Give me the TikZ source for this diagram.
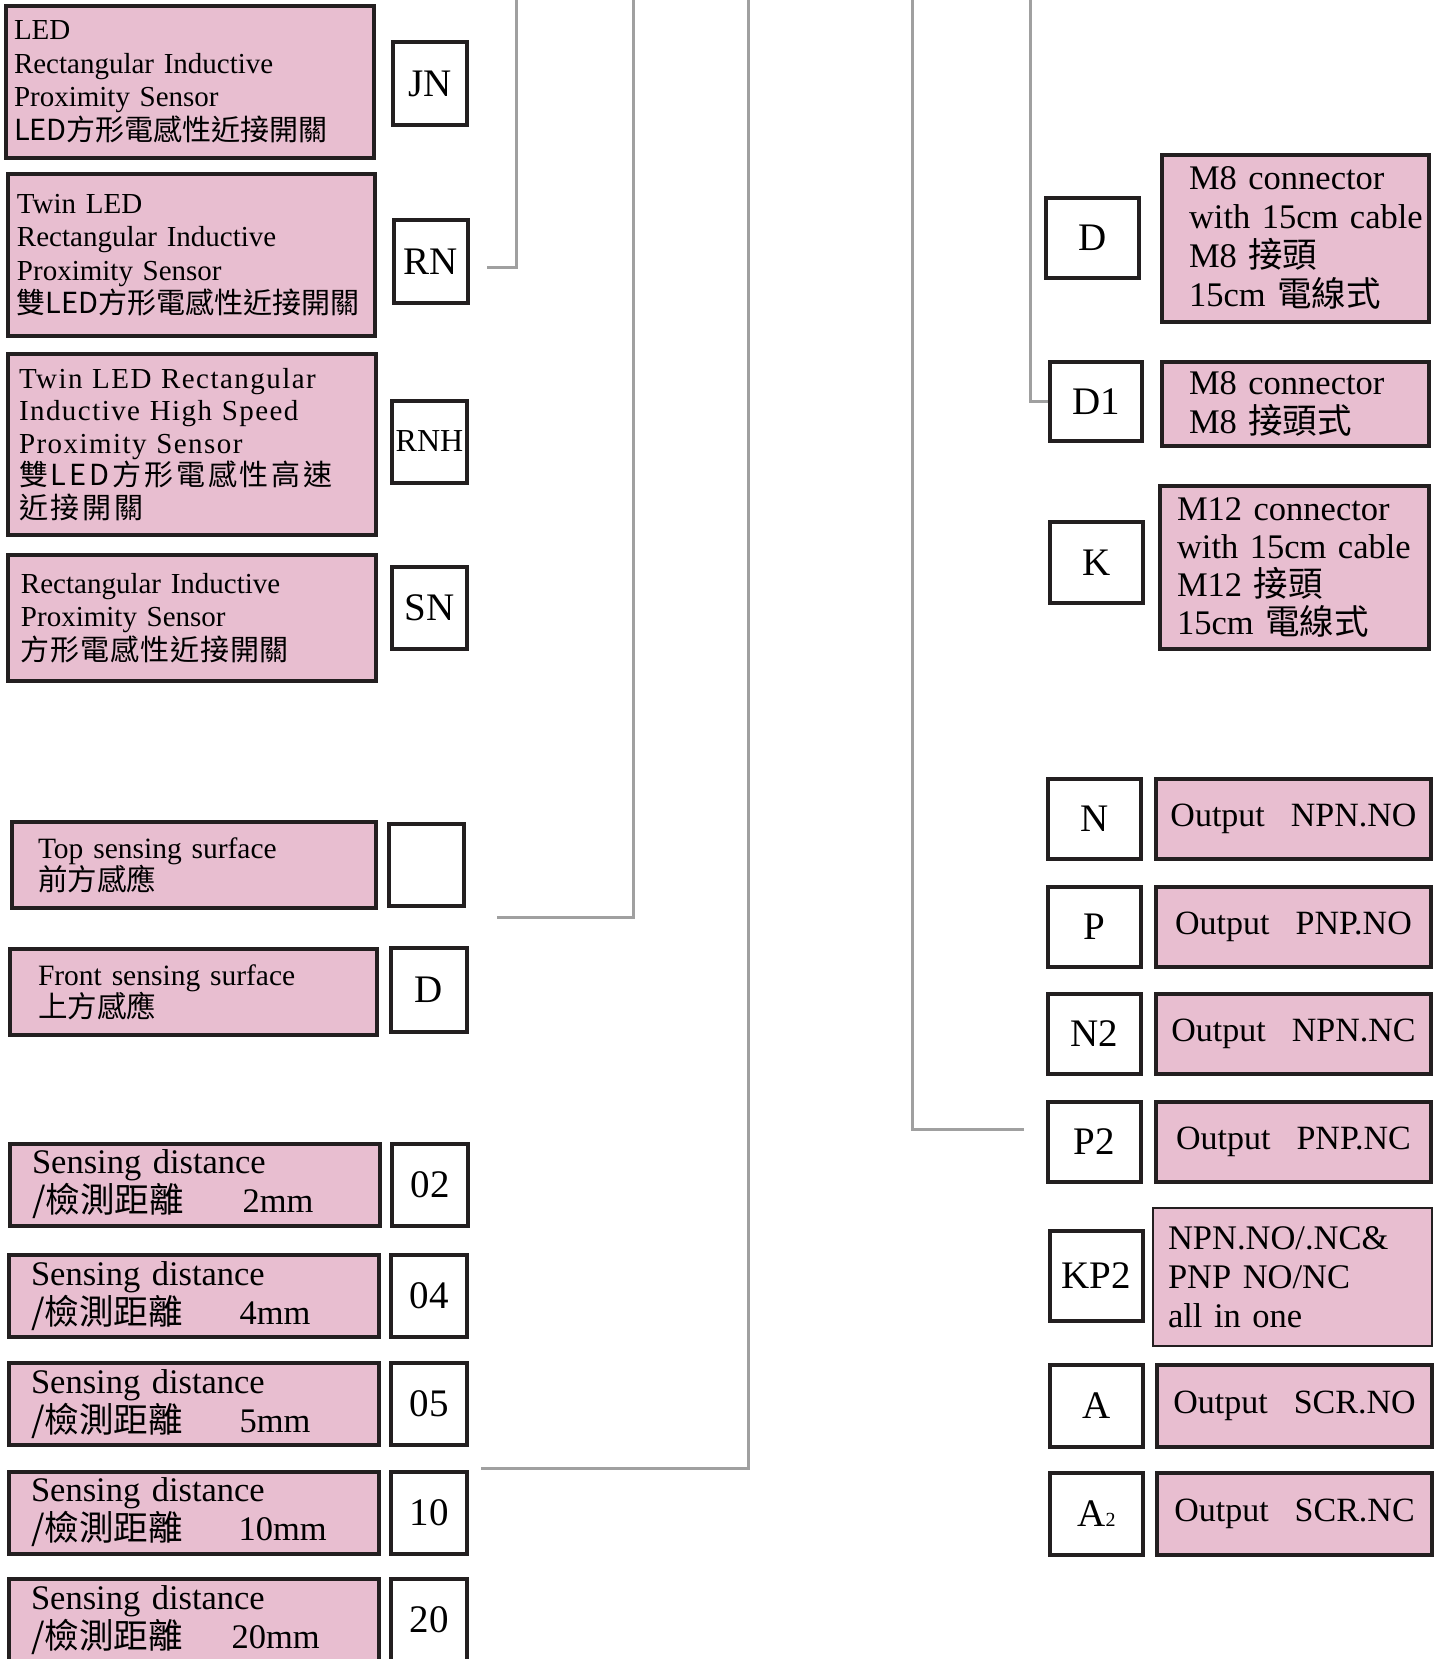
\documentclass[tikz,border=0pt]{standalone}
\usepackage{fontspec}
\setmainfont{Liberation Serif}
\newfontfamily\cjk{Noto Sans CJK TC}
\newfontfamily\cjksp[LetterSpace=10]{Noto Sans CJK TC}
\usetikzlibrary{positioning,calc}

\definecolor{pinkfill}{RGB}{232,190,208}
\definecolor{edgeline}{RGB}{35,31,32}
\definecolor{wiregrey}{RGB}{160,160,160}

\begin{document}
\begin{tikzpicture}[
  x=1pt, y=-1pt,
  wire/.style={draw=wiregrey, line width=3pt},
  descbox/.style={draw=edgeline, fill=pinkfill, line width=4pt, inner sep=0pt,
                  align=left, font=\fontsize{29}{33.5}\selectfont},
  bigdesc/.style={descbox, font=\fontsize{34.5}{39}\selectfont},
  outbox/.style={descbox, align=center, font=\fontsize{34}{40}\selectfont,
                 minimum width=275pt, minimum height=80pt},
  codebox/.style={draw=edgeline, fill=white, line width=4pt, inner sep=0pt, align=center,
                  minimum width=75pt, minimum height=82pt, font=\fontsize{39}{45}\selectfont},
  rcode/.style={codebox, minimum width=93pt, minimum height=80pt},
  lpad/.style={execute at begin node={\leftskip=#1\relax}}
]
\useasboundingbox (0,0) rectangle (1439,1659);
\clip (0,0) rectangle (1439,1659);

% ---------------------------------------------------------------------------
% Left column: sensor type
% ---------------------------------------------------------------------------
\node[descbox, minimum width=368pt, minimum height=152pt, text width=360pt, lpad=4pt]
  (ledbox) at (190,82) {LED\\Rectangular Inductive\\Proximity Sensor\\
  {\cjk LED方形電感性近接開關}};
\node[codebox, minimum width=74pt, minimum height=83pt, right=15pt of ledbox, yshift=-1.5pt] (jn) {JN};

\node[descbox, minimum width=367pt, minimum height=162pt, text width=359pt, lpad=5pt]
  (twinbox) at (191.5,255) {Twin LED\\Rectangular Inductive\\Proximity Sensor\\
  {\cjk 雙LED方形電感性近接開關}};
\node[codebox, minimum width=74pt, minimum height=83pt, right=15pt of twinbox, yshift=-6.5pt] (rn) {RN};

\node[descbox, minimum width=368pt, minimum height=181pt, text width=360pt, lpad=7pt,
      font=\fontsize{29}{32.5}\selectfont\addfontfeature{LetterSpace=5}]
  (speedbox) at (192,444.5) {Twin LED Rectangular\\Inductive High Speed\\Proximity Sensor\\
  {\cjksp 雙LED方形電感性高速\\近接開關}};
\node[codebox, right=12pt of speedbox, yshift=3pt, font=\fontsize{32}{38}\selectfont] (rnh) {RNH};

\node[descbox, minimum width=368pt, minimum height=126pt, text width=360pt, lpad=9pt]
  (rectbox) at (192,618) {Rectangular Inductive\\Proximity Sensor\\
  {\cjk\addfontfeature{LetterSpace=3}方形電感性近接開關}};
\node[codebox, right=12pt of rectbox, yshift=10.5pt] (sn) {SN};

% ---------------------------------------------------------------------------
% Left column: sensing surface
% ---------------------------------------------------------------------------
\node[descbox, minimum width=364pt, minimum height=86pt, text width=356pt, lpad=22pt,
      font=\fontsize{29.5}{32}\selectfont]
  (topbox) at (194,865) {Top sensing surface\\{\cjk 前方感應}};
\node[codebox, right=9pt of topbox] (blank) {};

\node[descbox, minimum width=367pt, minimum height=86pt, text width=359pt, lpad=24pt,
      font=\fontsize{29.5}{32}\selectfont]
  (frontbox) at (193.5,992) {Front sensing surface\\{\cjk 上方感應}};
\node[codebox, minimum width=76pt, minimum height=84pt, right=10pt of frontbox, yshift=2pt] (dfront) {D};

% ---------------------------------------------------------------------------
% Left column: sensing distance
% ---------------------------------------------------------------------------
\node[bigdesc, minimum width=370pt, minimum height=82pt, text width=362pt, lpad=18pt]
  (dist02) at (195,1184.5) {Sensing distance\\{\cjk /檢測距離}\hspace{59pt}2mm};
\node[codebox, minimum width=76pt, right=8pt of dist02] (c02) {02};

\node[bigdesc, minimum width=370pt, minimum height=82pt, text width=362pt, lpad=18pt]
  (dist04) at (194,1296) {Sensing distance\\{\cjk /檢測距離}\hspace{57pt}4mm};
\node[codebox, minimum width=76pt, right=8pt of dist04] (c04) {04};

\node[bigdesc, minimum width=370pt, minimum height=82pt, text width=362pt, lpad=18pt]
  (dist05) at (194,1404) {Sensing distance\\{\cjk /檢測距離}\hspace{57pt}5mm};
\node[codebox, minimum width=76pt, right=8pt of dist05] (c05) {05};

\node[bigdesc, minimum width=370pt, minimum height=82pt, text width=362pt, lpad=18pt]
  (dist10) at (194,1512.5) {Sensing distance\\{\cjk /檢測距離}\hspace{56pt}10mm};
\node[codebox, minimum width=76pt, right=8pt of dist10] (c10) {10};

\node[bigdesc, minimum width=370pt, minimum height=82pt, text width=362pt, lpad=18pt]
  (dist20) at (194,1620) {Sensing distance\\{\cjk /檢測距離}\hspace{49pt}20mm};
\node[codebox, minimum width=76pt, right=8pt of dist20] (c20) {20};

% ---------------------------------------------------------------------------
% Right column: connection
% ---------------------------------------------------------------------------
\node[rcode] (dcode) at (1092.5,238) {D};
\node[bigdesc, minimum width=267pt, minimum height=167pt, text width=259pt, lpad=23pt,
      right=19pt of dcode] (m8cable) {M8 connector\\with 15cm cable\\M8 {\cjk 接頭}\\15cm {\cjk 電線式}};

\node[rcode, minimum width=92pt, minimum height=79pt] (d1) at (1096,401.5) {D1};
\node[bigdesc, minimum width=267pt, minimum height=84pt, text width=259pt, lpad=23pt,
      right=16pt of d1, yshift=-2.5pt] (m8conn) {M8 connector\\M8 {\cjk 接頭式}};

\node[rcode, minimum height=81pt] (kcode) at (1096.5,562.5) {K};
\node[bigdesc, minimum width=269pt, minimum height=163pt, text width=261pt, lpad=13pt,
      font=\fontsize{34.5}{38}\selectfont, right=13pt of kcode, yshift=-5pt]
  (m12cable) {M12 connector\\with 15cm cable\\M12 {\cjk 接頭}\\15cm {\cjk 電線式}};

% ---------------------------------------------------------------------------
% Right column: output
% ---------------------------------------------------------------------------
\node[rcode] (ncode) at (1094.5,819) {N};
\node[outbox, right=11pt of ncode] (npnno) {Output\hspace{26pt}NPN.NO};

\node[rcode, below=24pt of ncode] (pcode) {P};
\node[outbox, right=11pt of pcode] (pnpno) {Output\hspace{26pt}PNP.NO};

\node[rcode, below=23pt of pcode] (n2code) {N2};
\node[outbox, right=11pt of n2code] (npnnc) {Output\hspace{26pt}NPN.NC};

\node[rcode, below=24pt of n2code] (p2code) {P2};
\node[outbox, right=11pt of p2code] (pnpnc) {Output\hspace{26pt}PNP.NC};

\node[rcode, minimum height=90pt] (kp2code) at (1096.5,1276) {KP2};
\node[descbox, line width=2pt, minimum width=279pt, minimum height=138pt, text width=271pt,
      lpad=11pt, font=\fontsize{34.5}{39}\selectfont, right=7pt of kp2code, yshift=-1pt]
  (allinone) {NPN.NO/.NC\&\\PNP NO/NC\\all in one};

\node[rcode, minimum height=82pt] (acode) at (1096.5,1406) {A};
\node[outbox, minimum height=82pt, right=10pt of acode] (scrno) {Output\hspace{26pt}SCR.NO};

\node[rcode, minimum height=82pt, below=22pt of acode] (a2code) {A{\fontsize{20}{20}\selectfont 2}};
\node[outbox, minimum height=82pt, right=10pt of a2code] (scrnc) {Output\hspace{26pt}SCR.NC};

% ---------------------------------------------------------------------------
% Grey leader lines up to the code line
% ---------------------------------------------------------------------------
\coordinate (typeTap) at (487,267);   \coordinate (typeTop) at (516,0);
\coordinate (faceTap) at (497,917);   \coordinate (faceTop) at (633,0);
\coordinate (distTap) at (481,1468);  \coordinate (distTop) at (748,0);
\coordinate (outTap) at (1024,1129);  \coordinate (outTop) at (912,0);
\coordinate (connTop) at (1030,0);

\draw[wire] (typeTap) -| (typeTop);
\draw[wire] (faceTap) -| (faceTop);
\draw[wire] (distTap) -| (distTop);
\draw[wire] (outTap) -| (outTop);
\draw[wire] (d1.west) -| (connTop);

\end{tikzpicture}
\end{document}
